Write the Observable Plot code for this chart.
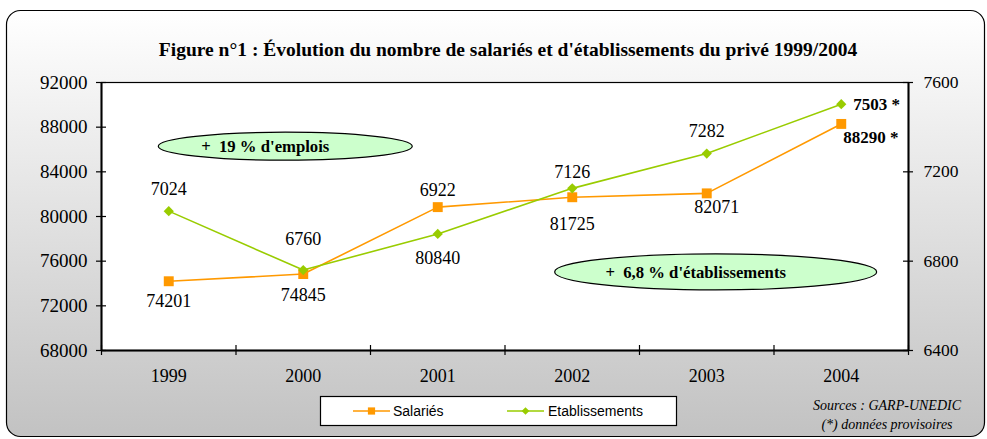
<!DOCTYPE html>
<html>
<head>
<meta charset="utf-8">
<script src="https://cdn.jsdelivr.net/npm/d3@7"></script>
<script src="https://cdn.jsdelivr.net/npm/@observablehq/plot@0.6"></script>
<style>
  html, body { margin: 0; padding: 0; background: white; }
  #chart { width: 987px; height: 439px; }
</style>
</head>
<body>
<div id="chart"></div>
<script>
// ---- data ----
const years = [1999, 2000, 2001, 2002, 2003, 2004];
const salaries = [74201, 74845, 80840, 81725, 82071, 88290];
const etablissements = [7024, 6760, 6922, 7126, 7282, 7503];
const leftTicks = [68000, 72000, 76000, 80000, 84000, 88000, 92000];
const rightTicks = [6400, 6800, 7200, 7600];
const seriesNames = ["Salariés", "Etablissements"];
const title = "Figure n°1 : Évolution du nombre de salariés et d'établissements du privé 1999/2004";
const annotations = ["+\u00a0\u00a019 % d'emplois", "+\u00a0\u00a06,8 % d'établissements"];
const sources = ["Sources : GARP-UNEDIC", "(*) données provisoires"];

// label placement (pixel offsets, presentation only)
const salLabelDy = [20, 21, 51, 27, 14];
const salLabelDx = [0, 0, 0, 0, 10];
const etabLabelDy = [-22, -31, -44, -16, -22];

// ---- scales ----
const orange = "#ff9900";
const green = "#99cc00";
const leftDomain = [68000, 92000];
const rightDomain = [6400, 7600];
const k = (leftDomain[1] - leftDomain[0]) / (rightDomain[1] - rightDomain[0]);
const toLeft = v => leftDomain[0] + (v - rightDomain[0]) * k;
const fromLeft = v => Math.round(rightDomain[0] + (v - leftDomain[0]) / k);

const sal = years.map((y, i) => ({year: y, value: salaries[i]}));
const etab = years.map((y, i) => ({year: y, value: toLeft(etablissements[i]), raw: etablissements[i]}));
const bounds = d3.range(years.length + 1).map(i => years[0] - 0.5 + i);
const serif = "'Liberation Serif', 'Times New Roman', serif";
const sans = "'Liberation Sans', Arial, sans-serif";

const labelMarks = [];
sal.slice(0, 5).forEach((d, i) => {
  labelMarks.push(Plot.text([d], {x: "year", y: "value", text: d => String(d.value), dy: salLabelDy[i], dx: salLabelDx[i], fontSize: 18, fill: "black"}));
});
etab.slice(0, 5).forEach((d, i) => {
  labelMarks.push(Plot.text([d], {x: "year", y: "value", text: d => String(d.raw), dy: etabLabelDy[i], fontSize: 18, fill: "black"}));
});
labelMarks.push(Plot.text([sal[5]], {x: "year", y: "value", text: d => d.value + " *", textAnchor: "start", dx: 2, dy: 14, fontSize: 17, fontWeight: "bold", fill: "black"}));
labelMarks.push(Plot.text([etab[5]], {x: "year", y: "value", text: d => d.raw + " *", textAnchor: "start", dx: 12, dy: 0, fontSize: 17, fontWeight: "bold", fill: "black"}));

const plot = Plot.plot({
  width: 987,
  height: 439,
  marginLeft: 101,
  marginRight: 79,
  marginTop: 82,
  marginBottom: 89,
  style: {fontFamily: serif, fontSize: "17px", background: "transparent", color: "black", overflow: "visible"},
  x: {type: "linear", domain: [bounds[0], bounds[bounds.length - 1]]},
  y: {domain: leftDomain},
  marks: [
    Plot.frame({fill: "white", stroke: "black", strokeWidth: 1.2}),
    Plot.ruleX([bounds[0], bounds[bounds.length - 1]], {stroke: "black", strokeWidth: 2}),
    Plot.ruleY([leftDomain[0]], {stroke: "black", strokeWidth: 2}),
    // crossing ticks
    Plot.ruleY(leftTicks, {y: d => d, x1: bounds[0], x2: bounds[0], insetLeft: -5, insetRight: -5, stroke: "black", strokeWidth: 1.2}),
    Plot.ruleY(rightTicks.map(toLeft), {y: d => d, x1: bounds[bounds.length - 1], x2: bounds[bounds.length - 1], insetLeft: -5, insetRight: -5, stroke: "black", strokeWidth: 1.2}),
    Plot.ruleX(bounds, {x: d => d, y1: leftDomain[0], y2: leftDomain[0], insetTop: -5, insetBottom: -5, stroke: "black", strokeWidth: 1.2}),
    Plot.axisY({anchor: "left", ticks: leftTicks, tickSize: 0, tickPadding: 14, label: null, fontSize: 19, tickFormat: d => String(d)}),
    Plot.axisY({anchor: "right", ticks: rightTicks.map(toLeft), tickSize: 0, tickPadding: 15, label: null, fontSize: 17.5, tickFormat: d => String(fromLeft(d))}),
    Plot.axisX({ticks: years, tickSize: 0, tickPadding: 19, label: null, fontSize: 18, tickFormat: d => String(d)}),
    Plot.line(sal, {x: "year", y: "value", stroke: orange, strokeWidth: 1.6}),
    Plot.line(etab, {x: "year", y: "value", stroke: green, strokeWidth: 1.6}),
    Plot.dot(sal, {x: "year", y: "value", symbol: "square", r: 5.6, fill: orange, stroke: "none"}),
    Plot.dot(etab, {x: "year", y: "value", symbol: "diamond2", r: 4.6, fill: green, stroke: "none"}),
    ...labelMarks,
    Plot.text([title], {frameAnchor: "top", dy: -40, dx: 3, fontSize: 19.5, fontWeight: "bold", fill: "black"})
  ]
});

const svg = d3.select(plot);
const sx = plot.scale("x");
const sy = plot.scale("y");

// background rounded box with gradient
const defs = svg.insert("defs", ":first-child");
const grad = defs.append("linearGradient").attr("id", "bg").attr("x1", 0).attr("y1", 0).attr("x2", 0).attr("y2", 1);
grad.append("stop").attr("offset", "0%").attr("stop-color", "#ffffff");
grad.append("stop").attr("offset", "100%").attr("stop-color", "#c2c2c2");
svg.insert("rect", "defs + *")
  .attr("x", 6.5).attr("y", 10.5).attr("width", 978).attr("height", 426).attr("rx", 14)
  .attr("fill", "url(#bg)").attr("stroke", "black").attr("stroke-width", 1.2);

// annotation ellipses (positioned in data space)
const ann = [
  {x: 1999.87, y: 86250, rx: 127, ry: 14, text: annotations[0]},
  {x: 2003.07, y: 74990, rx: 161, ry: 18, text: annotations[1]}
];
const ag = svg.append("g");
ann.forEach(a => {
  const cx = sx.apply(a.x), cy = sy.apply(a.y);
  ag.append("ellipse").attr("cx", cx).attr("cy", cy).attr("rx", a.rx).attr("ry", a.ry)
    .attr("fill", "#ccffcc").attr("stroke", "black").attr("stroke-width", 1.2);
  ag.append("text").attr("x", cx - 20).attr("y", cy).attr("dy", "0.35em")
    .attr("text-anchor", "middle").attr("font-family", serif).attr("font-weight", "bold")
    .attr("font-size", 16.7).attr("fill", "black")
    .text(a.text);
});

// legend
const lg = svg.append("g");
lg.append("rect").attr("x", 320.5).attr("y", 396.5).attr("width", 356).attr("height", 29)
  .attr("fill", "white").attr("stroke", "black").attr("stroke-width", 1.2);
const items = [
  {name: seriesNames[0], color: orange, sym: d3.symbol(d3.symbolSquare, 52), x1: 353, x2: 390, tx: 393},
  {name: seriesNames[1], color: green, sym: d3.symbol(d3.symbolDiamond2, 38), x1: 507, x2: 544, tx: 548}
];
items.forEach(it => {
  const cx = (it.x1 + it.x2) / 2;
  lg.append("line").attr("x1", it.x1).attr("x2", it.x2).attr("y1", 411).attr("y2", 411)
    .attr("stroke", it.color).attr("stroke-width", 1.6);
  lg.append("path").attr("d", it.sym()).attr("transform", `translate(${cx},411)`).attr("fill", it.color);
  lg.append("text").attr("x", it.tx).attr("y", 411).attr("dy", "0.35em")
    .attr("text-anchor", "start")
    .attr("font-family", sans).attr("font-size", 14).attr("fill", "black")
    .text(it.name);
});

// sources
sources.forEach((s, i) => {
  svg.append("text").attr("x", 887).attr("y", 405 + i * 19).attr("dy", "0.35em")
    .attr("text-anchor", "middle").attr("font-family", serif).attr("font-style", "italic")
    .attr("font-size", 14).attr("fill", "black").text(s);
});

document.getElementById("chart").appendChild(plot);
</script>
</body>
</html>
